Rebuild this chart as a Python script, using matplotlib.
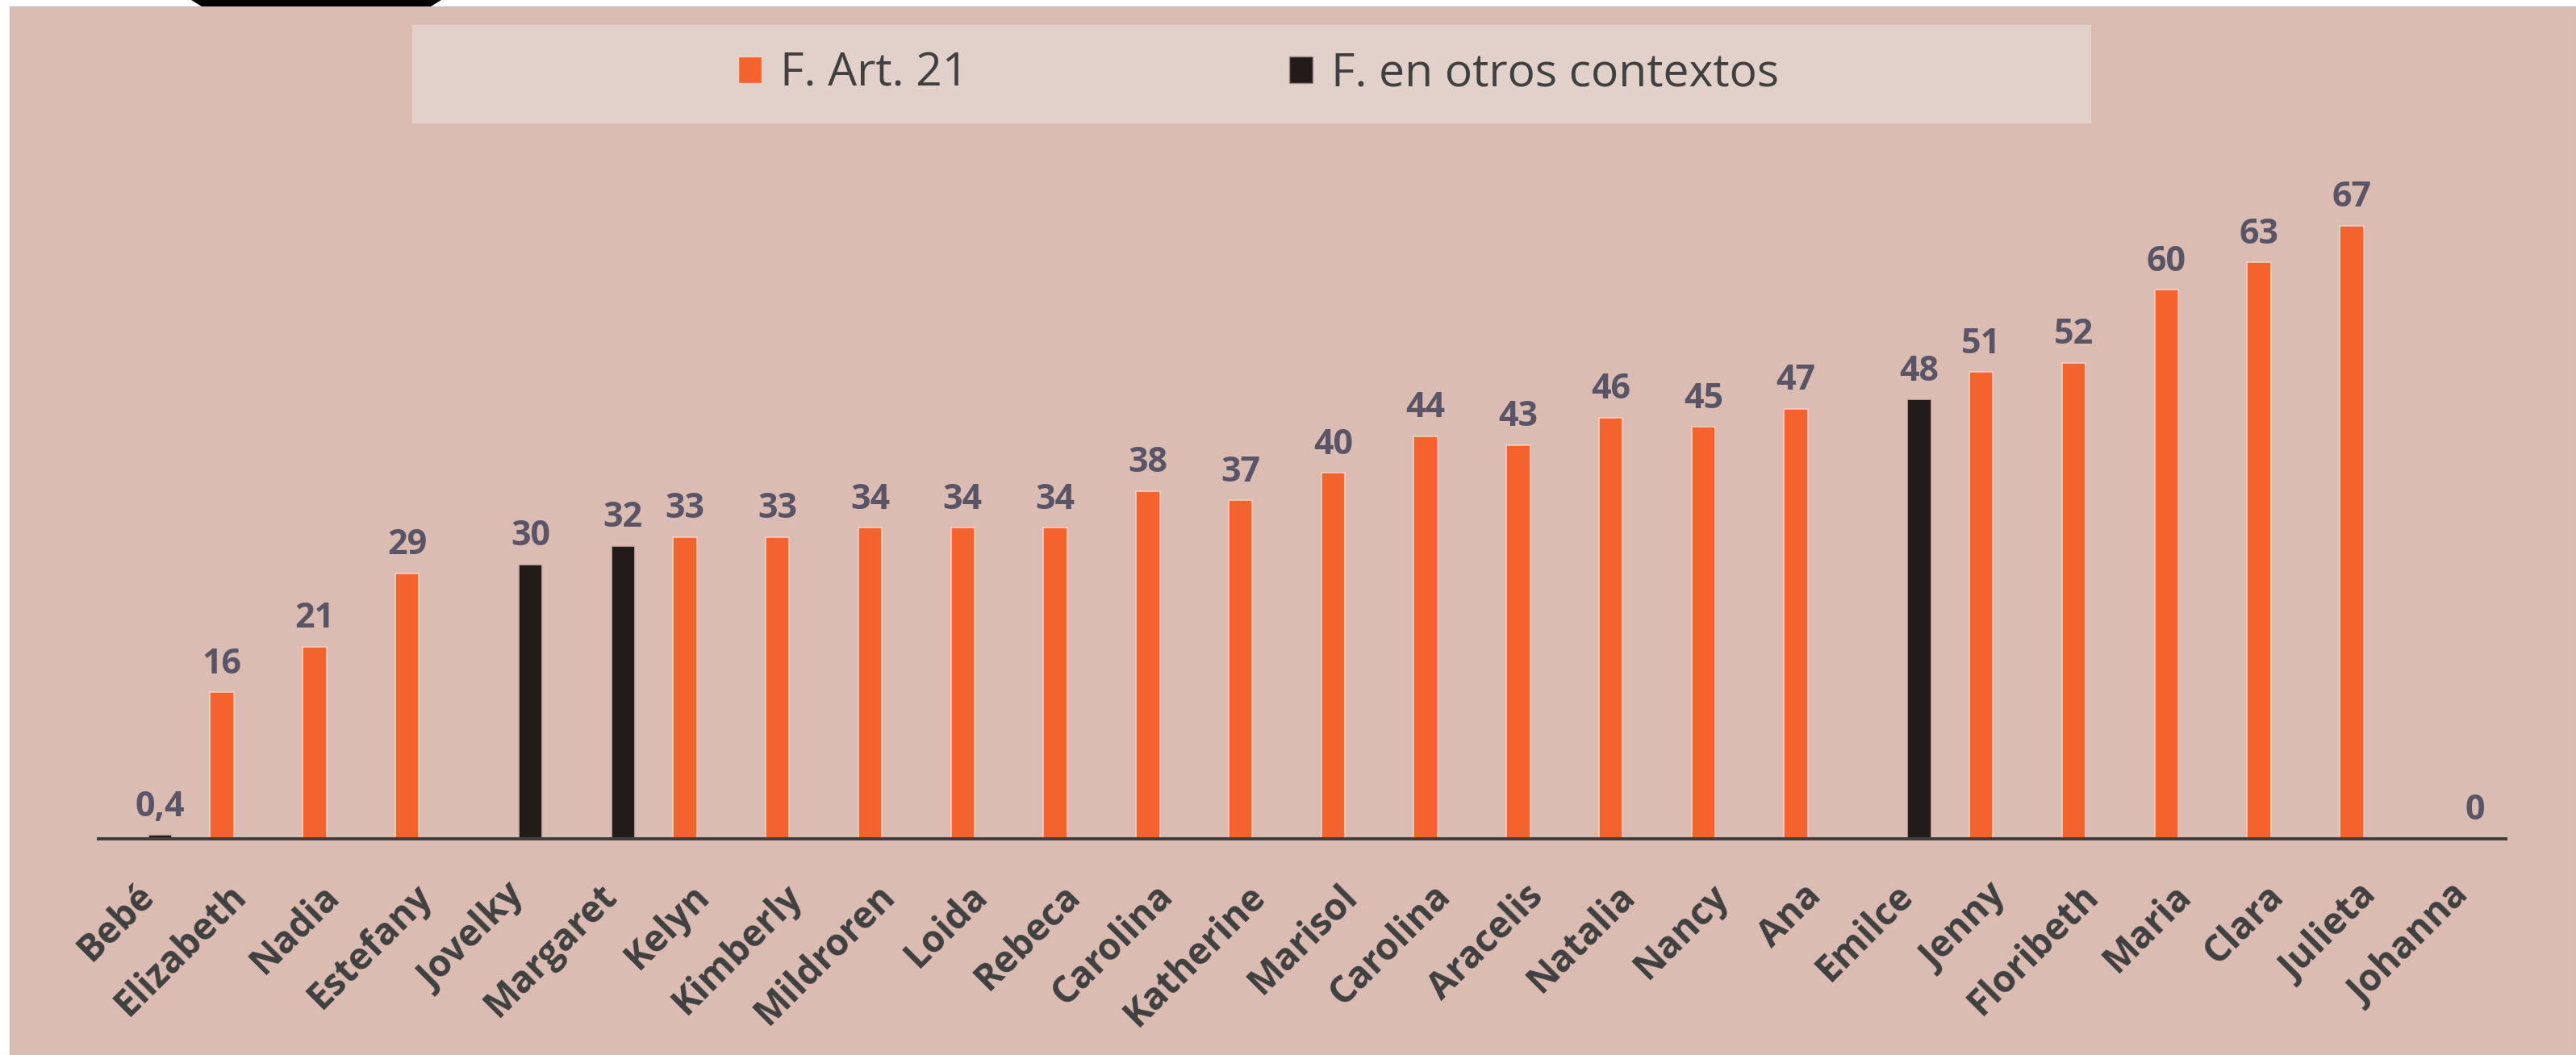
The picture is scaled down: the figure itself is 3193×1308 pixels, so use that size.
import numpy as np
import matplotlib
matplotlib.use("Agg")
import matplotlib.pyplot as plt
from matplotlib.patches import Rectangle, Polygon, Patch
from matplotlib.transforms import ScaledTranslation

plt.rcParams['font.family'] = ['Open Sans', 'DejaVu Sans']

# datos
nombres = ["Bebé", "Elizabeth", "Nadia", "Estefany", "Jovelky", "Margaret", "Kelyn",
           "Kimberly", "Mildroren", "Loida", "Rebeca", "Carolina", "Katherine", "Marisol",
           "Carolina", "Aracelis", "Natalia", "Nancy", "Ana", "Emilce", "Jenny",
           "Floribeth", "Maria", "Clara", "Julieta", "Johanna"]
art21 = [None, 16, 21, 29, None, None, 33, 33, 34, 34, 34, 38, 37, 40, 44, 43, 46, 45,
         47, None, 51, 52, 60, 63, 67, None]
otros = [0.4, None, None, None, 30, 32, None, None, None, None, None, None, None, None,
         None, None, None, None, None, 48, None, None, None, None, None, 0]
series = ["F. Art. 21", "F. en otros contextos"]

naranja = "#F4622D"
negro = "#221B1A"
fondo = "#DBBCB3"

W, H = 3193, 1308
fig = plt.figure(figsize=(W / 100, H / 100), dpi=100, facecolor="white")

# fondo del grafico
fig.patches.append(Rectangle((12 / W, 0), 1 - 12 / W, 1 - 8 / H, transform=fig.transFigure,
                             facecolor=fondo, edgecolor="#BFBFBF", linewidth=1, zorder=-2))
# trozo negro arriba
fig.patches.append(Polygon([(237 / W, 1), (547 / W, 1), (534 / W, 1 - 8 / H), (250 / W, 1 - 8 / H)],
                           closed=True, transform=fig.transFigure, facecolor="black", zorder=-1))
# caja de la leyenda
fig.patches.append(Rectangle((511 / W, 1 - 153 / H), (2592 - 511) / W, 122 / H,
                             transform=fig.transFigure, facecolor="#E2D1CB", edgecolor="none", zorder=-1))

ax = fig.add_axes([122 / W, 1 - 1040 / H, (3106 - 122) / W, 851 / H])
ax.set_facecolor("none")
ax.set_zorder(2)

x = np.arange(len(nombres))
a = np.array([np.nan if v is None else v for v in art21], dtype=float)
o = np.array([np.nan if v is None else v for v in otros], dtype=float)

ancho = 0.257
ax.bar(x - 0.166, a, ancho, color=naranja, edgecolor="#F6CDBF", linewidth=1.2, zorder=2)
ax.bar(x + 0.166, o, ancho, color=negro, edgecolor="#CDB0A8", linewidth=1.2, zorder=2)

def etiqueta(v):
    return f"{v:g}".replace(".", ",")

for xs, vals in [(x - 0.166, a), (x + 0.166, o)]:
    for xi, v in zip(xs, vals):
        if np.isnan(v):
            continue
        ax.annotate(etiqueta(v), (xi, v), xytext=(0, 17), textcoords="offset points",
                    ha="center", va="baseline", fontsize=31, fontweight="bold",
                    color="#595466", annotation_clip=False)

ax.set_xlim(-0.5, len(nombres) - 0.5)
ax.set_ylim(0, 75)
ax.set_yticks([])
for s in ["left", "right", "top"]:
    ax.spines[s].set_visible(False)
ax.spines["bottom"].set_color("#404040")
ax.spines["bottom"].set_linewidth(2.9)
ax.spines["bottom"].set_zorder(3)

ax.set_xticks(x)
ax.set_xticklabels(nombres, rotation=45, ha="right", va="center", rotation_mode="anchor",
                   fontsize=33, fontweight="bold", color="#404040")
ax.tick_params(axis="x", length=0, pad=46)
offset = ScaledTranslation(0.05, 0, fig.dpi_scale_trans)
for lab in ax.get_xticklabels():
    lab.set_transform(lab.get_transform() + offset)

handles = [Patch(facecolor=naranja, edgecolor="#F6CDBF", label=series[0]),
           Patch(facecolor=negro, edgecolor="#9A8A86", label=series[1])]
fig.legend(handles=handles, loc="center", bbox_to_anchor=(1560 / W, 1 - 92 / H), ncol=2,
           frameon=False, fontsize=41, handlelength=0.5, handleheight=0.5,
           handletextpad=0.4, columnspacing=7.0, labelcolor="#404040")

fig.savefig("out.png", dpi=100, facecolor="white")
